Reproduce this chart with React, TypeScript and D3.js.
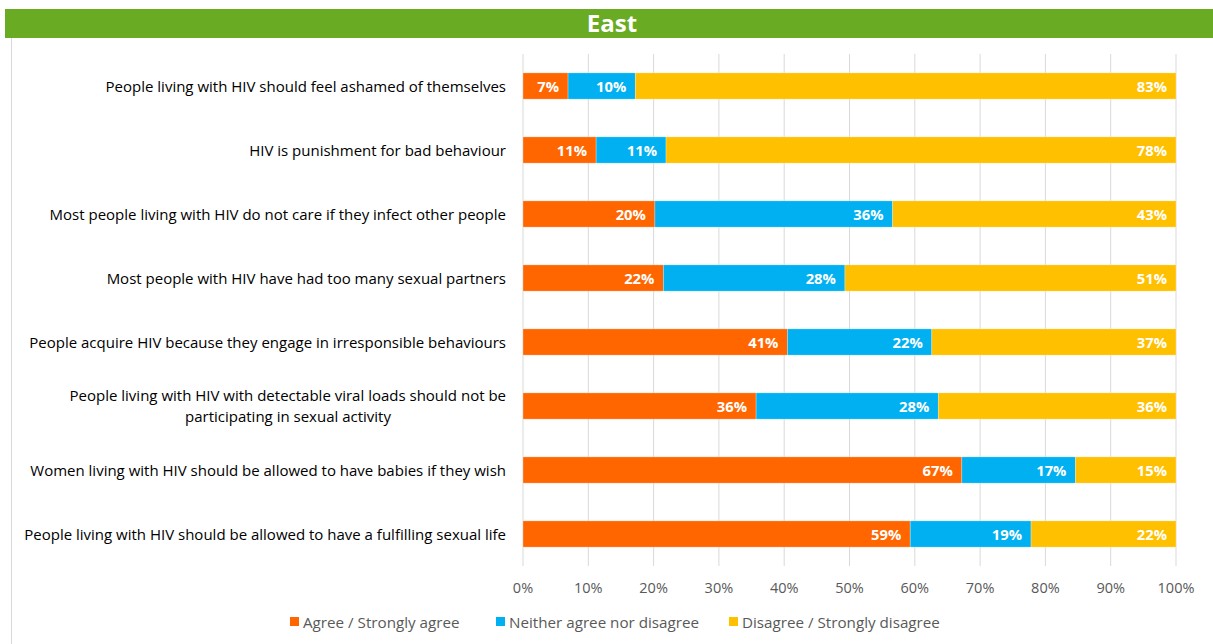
import React from "react";
import * as d3 from "d3";

const categories = [
  "People living with HIV should feel ashamed of themselves",
  "HIV is punishment for bad behaviour",
  "Most people living with HIV do not care if they infect other people",
  "Most people with HIV have had too many sexual partners",
  "People acquire HIV because they engage in irresponsible behaviours",
  "People living with HIV with detectable viral loads should not be participating in sexual activity",
  "Women living with HIV should be allowed to have babies if they wish",
  "People living with HIV should be allowed to have a fulfilling sexual life",
];
const categoryLines = [
  ["People living with HIV should feel ashamed of themselves"],
  ["HIV is punishment for bad behaviour"],
  ["Most people living with HIV do not care if they infect other people"],
  ["Most people with HIV have had too many sexual partners"],
  ["People acquire HIV because they engage in irresponsible behaviours"],
  ["People living with HIV with detectable viral loads should not be", "participating in sexual activity"],
  ["Women living with HIV should be allowed to have babies if they wish"],
  ["People living with HIV should be allowed to have a fulfilling sexual life"],
];
const agree = [6.9, 11.2, 20.2, 21.5, 40.5, 35.7, 67.2, 59.3];
const neither = [10.3, 10.7, 36.4, 27.8, 22.1, 27.9, 17.4, 18.5];
const disagree = [82.8, 78.1, 43.4, 50.7, 37.4, 36.4, 15.4, 22.2];
const seriesNames = ["Agree / Strongly agree", "Neither agree nor disagree", "Disagree / Strongly disagree"];
const seriesColors = ["#FF6600", "#00B0F0", "#FFC000"];
const tickValues = [0, 10, 20, 30, 40, 50, 60, 70, 80, 90, 100];
const title = "East";

const W = 1213;
const H = 644;
const FONT = "'Open Sans', sans-serif";

export default function App() {
  const x = d3.scaleLinear().domain([0, 100]).range([523, 1176]);
  const y = d3.scaleBand<number>().domain(d3.range(categories.length)).range([54, 566]).paddingInner(0.59).paddingOuter(0.295);
  const series = [agree, neither, disagree];
  const rows = categories.map((c, i) => {
    let acc = 0;
    return series.map((s, k) => {
      const x0 = acc;
      acc += s[i];
      return { k, x0, x1: acc, v: s[i] };
    });
  });
  const legendX = [290, 496, 729];

  return (
    <svg width={W} height={H} style={{ position: "absolute", left: 0, top: 0, background: "#fff" }} fontFamily={FONT}>
      <rect x={0} y={0} width={W} height={H} fill="#fff" />
      <line x1={11.5} x2={11.5} y1={37} y2={H} stroke="#d9d9d9" strokeWidth={1} />
      <rect x={5} y={9} width={W - 5} height={29} fill="#6AAB24" />
      <text x={612} y={32} textAnchor="middle" fill="#fff" fontWeight="bold" fontSize={24}>{title}</text>
      {tickValues.map((t) => (
        <line key={t} x1={x(t)} x2={x(t)} y1={54} y2={566} stroke="#d9d9d9" strokeWidth={1} />
      ))}
      {tickValues.map((t) => (
        <text key={"l" + t} x={x(t)} y={593} textAnchor="middle" fill="#595959" fontSize={14.5}>{t}%</text>
      ))}
      {rows.map((segs, i) => (
        <g key={i}>
          {segs.map((s) => (
            <rect key={s.k} x={x(s.x0)} y={y(i)!} width={x(s.x1) - x(s.x0)} height={y.bandwidth()} fill={seriesColors[s.k]} stroke="#fff" strokeOpacity={0.35} strokeWidth={0.75} />
          ))}
          {segs.map((s) => (
            <text key={"t" + s.k} x={x(s.x1) - 9} y={y(i)! + y.bandwidth() / 2 + 5.5} textAnchor="end" fill="#fff" fontWeight="bold" fontSize={14.8}>
              {Math.round(s.v)}%
            </text>
          ))}
          {categoryLines[i].map((ln, j) => (
            <text key={"c" + j} x={categoryLines[i].length > 1 && j > 0 ? 288 : 506} y={y(i)! + y.bandwidth() / 2 + 5.5 + (j - (categoryLines[i].length - 1) / 2) * 21} textAnchor={categoryLines[i].length > 1 && j > 0 ? "middle" : "end"} fill="#000" fontSize={15}>
              {ln}
            </text>
          ))}
        </g>
      ))}
      {seriesNames.map((n, k) => (
        <g key={n}>
          <rect x={legendX[k]} y={617} width={9} height={9} fill={seriesColors[k]} />
          <text x={legendX[k] + 13} y={627.5} fill="#595959" fontSize={15.2}>{n}</text>
        </g>
      ))}
    </svg>
  );
}
